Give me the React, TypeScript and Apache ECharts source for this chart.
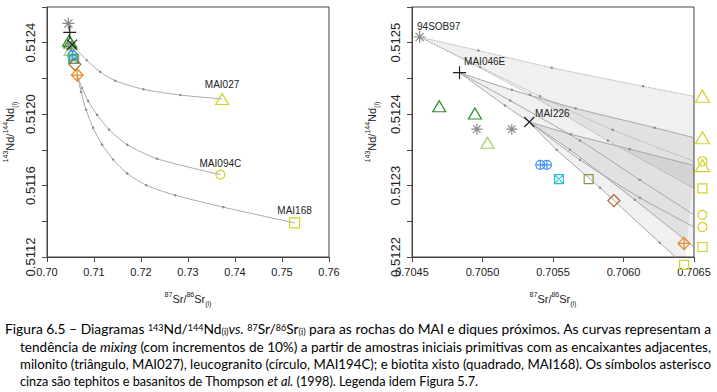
import React, { useEffect, useRef } from 'react';
import * as echarts from 'echarts';

// ---------- data ----------
// primitive starting samples
const startNames = ['94SOB97', 'MAI046E', 'MAI226'];
const startSr = [0.704554, 0.704837, 0.705332];
const startNd = [0.512508, 0.512458, 0.512389];

// country-rock end-members (left panel)
const endNames = ['MAI027', 'MAI094C', 'MAI168'];
const endSr = [0.73725, 0.73689, 0.75267];
const endNd = [0.512085, 0.511661, 0.511391];

// other samples
const thompsonSr = [0.70496, 0.705208];
const thompsonNd = [0.512379, 0.512379];
const darkTriSr = [0.704693, 0.704946];
const darkTriNd = [0.512411, 0.512401];
const lightTriSr = [0.705035];
const lightTriNd = [0.51236];
const blueSr = [0.70541, 0.705457];
const blueNd = [0.512329, 0.512329];
const cyanSr = [0.705542];
const cyanNd = [0.512309];
const oliveSr = [0.705753];
const oliveNd = [0.512309];
const brownSr = [0.705932];
const brownNd = [0.512279];
const orangeSr = [0.706429];
const orangeNd = [0.512219];

// end-members drawn at the edge of the right panel
const edgeTriSr = [0.70656, 0.70656, 0.70656];
const edgeTriNd = [0.512425, 0.512367, 0.512328];
const edgeCircSr = [0.70656, 0.70656, 0.70656];
const edgeCircNd = [0.512334, 0.512259, 0.512242];
const edgeSqSr = [0.70656, 0.70656, 0.70643];
const edgeSqNd = [0.512296, 0.512214, 0.512189];

// mixing curves, left panel
const leftCurve027 = [[0.70533, 0.512389], [0.70846, 0.512302], [0.7113, 0.512237], [0.7145, 0.512187], [0.72053, 0.512139], [0.72836, 0.512107], [0.73725, 0.512085]];
const leftCurve094C = [[0.70643, 0.512219], [0.70746, 0.512146], [0.70874, 0.512074], [0.71066, 0.511996], [0.71322, 0.511913], [0.71706, 0.511829], [0.72345, 0.51175], [0.73689, 0.511661]];
const leftCurve168 = [[0.70643, 0.512219], [0.70725, 0.512124], [0.70832, 0.512024], [0.70981, 0.511924], [0.71173, 0.511829], [0.71407, 0.511746], [0.71706, 0.511668], [0.72111, 0.511602], [0.72729, 0.511546], [0.73753, 0.511479], [0.75267, 0.511391]];

// mixing curves, right panel
const sobTri = [[0.704554, 0.512508], [0.704971, 0.512489], [0.705491, 0.512465], [0.706139, 0.512439], [0.7065, 0.512425]];
const sobCirc = [[0.704554, 0.512508], [0.704983, 0.512466], [0.705408, 0.512425], [0.705923, 0.512378], [0.7065, 0.512334]];
const sobSq = [[0.704554, 0.512508], [0.704913, 0.512472], [0.705337, 0.512427], [0.705889, 0.512363], [0.7065, 0.512296]];
const m046Tri = [[0.704837, 0.512458], [0.705208, 0.512434], [0.705661, 0.512408], [0.706222, 0.512381], [0.7065, 0.512367]];
const m046Circ = [[0.704837, 0.512458], [0.705196, 0.512419], [0.705691, 0.512363], [0.706116, 0.512308], [0.7065, 0.512259]];
const m046Sq = [[0.704837, 0.512458], [0.70516, 0.512412], [0.70562, 0.51235], [0.70608, 0.51228], [0.7065, 0.512214]];
const m226Tri = [[0.705332, 0.512389], [0.705625, 0.512372], [0.706045, 0.512351], [0.7065, 0.512328]];
const m226Circ = [[0.705332, 0.512389], [0.705691, 0.512336], [0.706116, 0.512283], [0.7065, 0.512242]];
const m226Sq = [[0.705332, 0.512389], [0.705526, 0.51235], [0.705833, 0.512297], [0.706257, 0.51222], [0.706434, 0.512189]];

// ---------- styling ----------
const FONT = '"Liberation Sans", Arial, Helvetica, sans-serif';
const P_AST = 'path://M0,5L10,5M5,0L5,10M1.6,1.6L8.4,8.4M1.6,8.4L8.4,1.6';
const P_PLUS = 'path://M0,5L10,5M5,0L5,10';
const P_CROSS = 'path://M0,0L10,10M0,10L10,0';
const P_CPLUS = 'path://M10,5A5,5,0,1,1,0,5A5,5,0,1,1,10,5ZM0,5L10,5M5,0L5,10';
const P_SQX = 'path://M0,0L10,0L10,10L0,10ZM0,0L10,10M0,10L10,0';
const P_DPLUS = 'path://M5,0L10,5L5,10L0,5ZM0,5L10,5M5,0L5,10';

const C_GRAY = '#8a8a8a';
const C_BLACK = '#222222';
const C_DGREEN = '#2e8b2e';
const C_LGREEN = '#a5cf62';
const C_BLUE = '#3f93f5';
const C_CYAN = '#22c4d4';
const C_OLIVE = '#7f9a45';
const C_BROWN = '#b0602c';
const C_ORANGE = '#e0902c';
const C_YELLOW = '#d2d224';

const pts = (sr: number[], nd: number[]) => sr.map((x, i) => [x, nd[i]]);

function marks(data: any[], symbol: string, size: any, color: string, g: number, extra: any = {}) {
  return {
    type: 'scatter',
    xAxisIndex: g,
    yAxisIndex: g,
    data,
    symbol,
    symbolSize: size,
    clip: false,
    silent: true,
    z: 5,
    itemStyle: { color: 'transparent', borderColor: color, borderWidth: 1.2, opacity: 1 },
    ...extra,
  };
}

function curve(points: number[][], g: number, dotted = false) {
  const n = points.length;
  return {
    type: 'line',
    xAxisIndex: g,
    yAxisIndex: g,
    silent: true,
    z: 3,
    smooth: 0.25,
    data: points.map((p, i) => ({ value: p, symbol: i === 0 || i === n - 1 ? 'none' : 'circle' })),
    symbolSize: 2.5,
    itemStyle: { color: '#8c8c8c' },
    lineStyle: { color: '#a0a0a0', width: 0.9, type: dotted ? 'dotted' : 'solid' },
  };
}

function fan(upper: number[][], lower: number[][], g: number) {
  const poly = [...upper, ...lower.slice().reverse()];
  return {
    type: 'custom',
    xAxisIndex: g,
    yAxisIndex: g,
    silent: true,
    clip: true,
    z: 1,
    data: poly,
    renderItem: (params: any, api: any) => {
      if (params.dataIndex !== 0) return null;
      return {
        type: 'polygon',
        shape: { points: poly.map((p) => api.coord(p)) },
        style: { fill: 'rgba(0,0,0,0.06)', stroke: 'rgba(0,0,0,0.04)', lineWidth: 0.5 },
      };
    },
  };
}

const nameRich = {
  sup: { fontSize: 7, lineHeight: 8, verticalAlign: 'top', color: '#222', fontFamily: FONT },
  sub: { fontSize: 7, lineHeight: 8, verticalAlign: 'bottom', color: '#222', fontFamily: FONT },
};

function xAxis(g: number, min: number, max: number, interval: number, digits: number) {
  return {
    gridIndex: g,
    type: 'value',
    min,
    max,
    interval,
    axisLine: { show: true, onZero: false, lineStyle: { color: '#444', width: 1 } },
    axisTick: { show: true, length: 5, lineStyle: { color: '#444', width: 1 } },
    axisLabel: { formatter: (v: number) => v.toFixed(digits), fontSize: 11, color: '#222', margin: 9, showMinLabel: true, showMaxLabel: true, fontFamily: FONT },
    splitLine: { show: false },
    name: '{sup|87}Sr/{sup|86}Sr{sub|(i)}',
    nameLocation: 'middle',
    nameGap: 34,
    nameTextStyle: { fontSize: 11, lineHeight: 16, color: '#222', fontFamily: FONT, rich: nameRich },
  };
}

function yAxis(g: number, min: number, max: number, interval: number, gap: number) {
  return {
    gridIndex: g,
    type: 'value',
    min,
    max,
    interval,
    axisLine: { show: true, onZero: false, lineStyle: { color: '#444', width: 1 } },
    axisTick: { show: true, length: 5, lineStyle: { color: '#444', width: 1 } },
    axisLabel: {
      rotate: 90,
      fontSize: 13,
      color: '#222',
      margin: 10,
      fontFamily: FONT,
      showMinLabel: true,
      formatter: (v: number) => (Math.round((v - min) / interval) % 2 === 0 ? v.toFixed(4) : ''),
    },
    splitLine: { show: false },
    name: '{sup|143}Nd/{sup|144}Nd{sub|(i)}',
    nameLocation: 'middle',
    nameGap: gap,
    nameTextStyle: { fontSize: 11, lineHeight: 16, color: '#222', fontFamily: FONT, rich: nameRich },
  };
}

function pointSeries(g: number) {
  return [
    marks(pts(thompsonSr, thompsonNd), P_AST, 11, C_GRAY, g),
    marks(pts(darkTriSr, darkTriNd), 'triangle', [13, 11], C_DGREEN, g),
    marks(pts(lightTriSr, lightTriNd), 'triangle', [13, 11], C_LGREEN, g),
    marks(pts(blueSr, blueNd), P_CPLUS, 9, C_BLUE, g),
    marks(pts(cyanSr, cyanNd), P_SQX, 9, C_CYAN, g),
    marks(pts(oliveSr, oliveNd), 'rect', 9, C_OLIVE, g),
    marks(pts(brownSr, brownNd), 'diamond', 12, C_BROWN, g),
    marks(pts(orangeSr, orangeNd), P_DPLUS, 12, C_ORANGE, g),
  ];
}

const startLabelPos = [[4, -9], [11.7, -9], [11.4, -8.4]];
const endLabelDist = [3, 1, 2];

function buildOption() {
  const startSymbols = [P_AST, P_PLUS, P_CROSS];
  const startSizes = [12, 13, 10];
  const startColors = [C_GRAY, C_BLACK, C_BLACK];
  const endSymbols = ['triangle', 'circle', 'rect'];
  const endSizes: any[] = [[13, 11], 9, 10];

  const series: any[] = [];
  // fans (right)
  series.push(fan(sobTri, sobSq, 1), fan(m046Tri, m046Sq, 1), fan(m226Tri, m226Sq, 1));
  // curves
  series.push(curve(leftCurve027, 0), curve(leftCurve094C, 0), curve(leftCurve168, 0));
  series.push(curve(sobTri, 1, true), curve(sobCirc, 1, true), curve(sobSq, 1, true));
  series.push(curve(m046Tri, 1), curve(m046Circ, 1), curve(m046Sq, 1));
  series.push(curve(m226Tri, 1), curve(m226Circ, 1), curve(m226Sq, 1));

  // sample points on both panels
  series.push(...pointSeries(0), ...pointSeries(1));

  // start samples
  startNames.forEach((name, i) => {
    series.push(marks([[startSr[i], startNd[i]]], startSymbols[i], startSizes[i], startColors[i], 0));
    series.push(
      marks([{ name, value: [startSr[i], startNd[i]] }], startSymbols[i], startSizes[i], startColors[i], 1, {
        label: { show: true, formatter: '{b}', position: startLabelPos[i], fontSize: 10, color: '#222', fontFamily: FONT },
      })
    );
  });

  // end-members (left) with labels
  endNames.forEach((name, i) => {
    series.push(
      marks([{ name, value: [endSr[i], endNd[i]] }], endSymbols[i], endSizes[i], C_YELLOW, 0, {
        label: { show: true, formatter: '{b}', position: 'top', distance: endLabelDist[i], fontSize: 10, color: '#222', fontFamily: FONT },
      })
    );
  });

  // end-members at right edge (right panel)
  series.push(marks(pts(edgeTriSr, edgeTriNd), 'triangle', [14, 12], C_YELLOW, 1));
  series.push(marks(pts(edgeCircSr, edgeCircNd), 'circle', 9, C_YELLOW, 1));
  series.push(marks(pts(edgeSqSr, edgeSqNd), 'rect', 9, C_YELLOW, 1));

  return {
    animation: false,
    textStyle: { fontFamily: FONT },
    grid: [
      { left: 47, top: 7, width: 282, height: 251, show: true, borderColor: '#444', borderWidth: 1, backgroundColor: 'transparent' },
      { left: 412, top: 7, width: 282, height: 251, show: true, borderColor: '#444', borderWidth: 1, backgroundColor: 'transparent' },
    ],
    xAxis: [xAxis(0, 0.7, 0.76, 0.01, 2), xAxis(1, 0.7045, 0.7065, 0.0005, 4)],
    yAxis: [yAxis(0, 0.5112, 0.5126, 0.0002, 29), yAxis(1, 0.5122, 0.51255, 0.00005, 32)],
    series,
  };
}

// ---------- caption layout ----------
const capLeft = [5, 20, 20, 20];
const capTop = [320, 338, 355, 372];
const capWidth = [706, 691, 691, 458];

const supStyle: React.CSSProperties = { fontSize: '0.65em', lineHeight: 1, verticalAlign: '0.35em' };
const subStyle: React.CSSProperties = { fontSize: '0.65em', lineHeight: 1, verticalAlign: '-0.1em' };

export default function App() {
  const ref = useRef<HTMLDivElement>(null);
  const lineRefs = useRef<(HTMLDivElement | null)[]>([]);

  useEffect(() => {
    if (!ref.current) return;
    const chart = echarts.init(ref.current, null, { renderer: 'svg' });
    chart.setOption(buildOption() as any);
    return () => chart.dispose();
  }, []);

  useEffect(() => {
    const fit = () => {
      lineRefs.current.forEach((el, i) => {
        if (!el) return;
        el.style.transform = 'none';
        const w = el.getBoundingClientRect().width;
        if (w > 0) el.style.transform = `scaleX(${capWidth[i] / w})`;
      });
    };
    fit();
    const f: any = (document as any).fonts;
    if (f && f.ready) f.ready.then(fit);
  }, []);

  const lines = [
    <>
      Figura 6.5 – Diagramas <sup style={supStyle}>143</sup>Nd/<sup style={supStyle}>144</sup>Nd<sub style={subStyle}>(i)</sub>
      <i>vs.</i> <sup style={supStyle}>87</sup>Sr/<sup style={supStyle}>86</sup>Sr<sub style={subStyle}>(i)</sub> para as rochas do MAI e diques
      próximos. As curvas representam a
    </>,
    <>
      tendência de <i>mixing</i> (com incrementos de 10%) a partir de amostras iniciais primitivas com as encaixantes adjacentes,
    </>,
    <>milonito (triângulo, MAI027), leucogranito (círculo, MAI194C); e biotita xisto (quadrado, MAI168). Os símbolos asterisco</>,
    <>
      cinza são tephitos e basanitos de Thompson <i>et al.</i> (1998). Legenda idem Figura 5.7.
    </>,
  ];

  return (
    <div style={{ position: 'fixed', left: 0, top: 0, width: 717, height: 392, background: '#fff', overflow: 'hidden' }}>
      <div ref={ref} style={{ position: 'absolute', left: 0, top: 0, width: 717, height: 312 }} />
      {lines.map((content, i) => (
        <div
          key={i}
          ref={(el) => {
            lineRefs.current[i] = el;
          }}
          style={{
            position: 'absolute',
            left: capLeft[i],
            top: capTop[i],
            whiteSpace: 'nowrap',
            fontFamily: 'Lato, "Open Sans", sans-serif',
            fontSize: 14,
            lineHeight: '17px',
            color: '#000',
            transformOrigin: 'left top',
            display: 'inline-block',
          }}
        >
          {content}
        </div>
      ))}
    </div>
  );
}
